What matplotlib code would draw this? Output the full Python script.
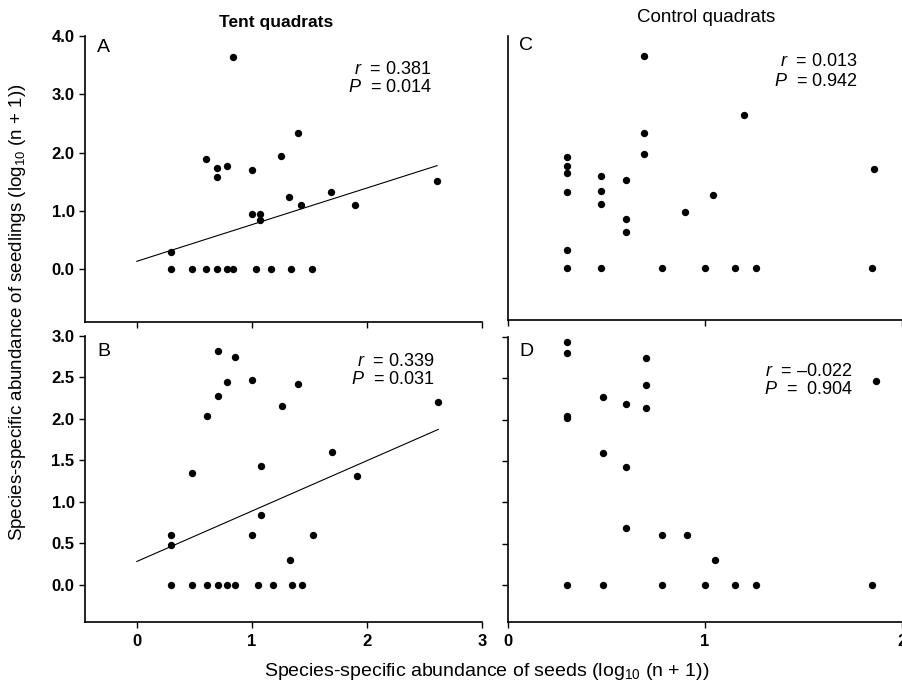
import numpy as np
import matplotlib
matplotlib.use("Agg")
import matplotlib.pyplot as plt

plt.rcParams["font.family"] = ["Liberation Sans", "DejaVu Sans"]
plt.rcParams["mathtext.fontset"] = "custom"
plt.rcParams["mathtext.rm"] = "Liberation Sans"
plt.rcParams["mathtext.it"] = "Liberation Sans:italic"

# Panel A: tent quadrats, seedlings (first y scale)
a_x = [0.30, 0.30, 0.48, 0.60, 0.70, 0.78, 0.84, 1.04, 1.17, 1.34, 1.52,
       0.60, 0.70, 0.70, 0.78, 0.84, 1.00, 1.00, 1.07, 1.07, 1.25, 1.32,
       1.40, 1.43, 1.69, 1.90, 2.61]
a_y = [0.30, 0.00, 0.00, 0.00, 0.00, 0.00, 0.00, 0.00, 0.00, 0.00, 0.00,
       1.90, 1.73, 1.58, 1.78, 3.64, 1.70, 0.95, 0.95, 0.85, 1.95, 1.25,
       2.33, 1.11, 1.32, 1.11, 1.51]
a_fit = (0.14, 0.628)  # intercept, slope

# Panel B: tent quadrats, second y scale
b_x = [0.30, 0.30, 0.30, 0.48, 0.61, 0.71, 0.78, 0.85, 1.05, 1.18, 1.35, 1.44,
       0.48, 0.61, 0.71, 0.71, 0.78, 0.85, 1.00, 1.00, 1.08, 1.08, 1.26, 1.33,
       1.40, 1.53, 1.70, 1.91, 2.62]
b_y = [0.60, 0.475, 0.00, 0.00, 0.00, 0.00, 0.00, 0.00, 0.00, 0.00, 0.00, 0.00,
       1.35, 2.03, 2.82, 2.28, 2.45, 2.75, 2.47, 0.60, 1.43, 0.84, 2.15, 0.30,
       2.42, 0.60, 1.60, 1.31, 2.20]
b_fit = (0.28, 0.608)

# Panel C: control quadrats
c_x = [0.30, 0.30, 0.30, 0.30, 0.30, 0.30, 0.47, 0.47, 0.47, 0.47,
       0.60, 0.60, 0.60, 0.69, 0.69, 0.69, 0.78, 0.90, 1.00, 1.04,
       1.15, 1.20, 1.26, 1.85, 1.86]
c_y = [1.91, 1.75, 1.63, 1.30, 0.30, 0.00, 0.00, 1.58, 1.32, 1.11,
       1.51, 0.85, 0.61, 3.66, 2.33, 1.96, 0.00, 0.96, 0.00, 1.26,
       0.00, 2.64, 0.00, 0.00, 1.70]

# Panel D: control quadrats
d_x = [0.30, 0.30, 0.30, 0.30, 0.30, 0.48, 0.48, 0.48, 0.60, 0.60, 0.60,
       0.70, 0.70, 0.70, 0.78, 0.78, 0.91, 1.00, 1.05, 1.15, 1.26, 1.85, 1.87]
d_y = [2.94, 2.81, 2.04, 2.02, 0.00, 2.27, 1.60, 0.00, 2.19, 1.43, 0.69,
       2.75, 2.42, 2.14, 0.60, 0.00, 0.60, 0.00, 0.30, 0.00, 0.00, 0.00, 2.47]

stats = {
    "A": ("0.381", "0.014"),
    "B": ("0.339", "0.031"),
    "C": ("0.013", "0.942"),
    "D": ("\u20130.022", " 0.904"),
}

W, H = 902, 688
fig = plt.figure(figsize=(W / 100, H / 100), dpi=100)


def px_axes(left, top, right, bottom):
    return fig.add_axes([left / W, 1 - bottom / H, (right - left) / W, (bottom - top) / H])


ax_a = px_axes(85, 36, 482, 322)
ax_b = px_axes(85, 336, 482, 622)
ax_c = px_axes(508, 36, 902, 320)
ax_d = px_axes(508, 337, 902, 622)

for ax in (ax_a, ax_b, ax_c, ax_d):
    for side in ("top", "right"):
        ax.spines[side].set_visible(False)
    for side in ("left", "bottom"):
        ax.spines[side].set_linewidth(1.2)
    ax.tick_params(direction="out", length=4, width=1.0, labelsize=12)
    ax.tick_params(axis="x", pad=5)

# left column
for ax, xs, ys, fit in ((ax_a, a_x, a_y, a_fit), (ax_b, b_x, b_y, b_fit)):
    ax.scatter(xs, ys, s=28, color="black", zorder=3, linewidths=0)
    xl = np.array([0, max(xs)])
    ax.plot(xl, fit[0] + fit[1] * xl, color="black", lw=0.8)
    ax.set_xlim(-0.45, 3.0)
    ax.set_xticks([0, 1, 2, 3])

ax_a.set_ylim(-0.9, 4.0)
ax_a.set_yticks([0, 1, 2, 3, 4])
ax_a.set_yticklabels(["0.0", "1.0", "2.0", "3.0", "4.0"], fontweight="bold")
ax_a.tick_params(axis="x", labelbottom=False)

ax_b.set_ylim(-0.45, 3.0)
ax_b.set_yticks(np.arange(0, 3.01, 0.5))
ax_b.set_yticklabels([f"{v:.1f}" for v in np.arange(0, 3.01, 0.5)], fontweight="bold")
ax_b.set_xticklabels(["0", "1", "2", "3"], fontweight="bold")

# right column
for ax, xs, ys in ((ax_c, c_x, c_y), (ax_d, d_x, d_y)):
    ax.scatter(xs, ys, s=28, color="black", zorder=3, linewidths=0, clip_on=False)
    ax.set_xlim(0, 2.0)
    ax.set_xticks([0, 1, 2])

ax_c.set_ylim(-0.9, 4.0)
ax_c.tick_params(axis="y", left=False, labelleft=False)
ax_c.tick_params(axis="x", labelbottom=False)

ax_d.set_ylim(-0.45, 3.0)
ax_d.set_yticks(np.arange(0, 3.01, 0.5))
ax_d.tick_params(axis="y", labelleft=False)
ax_d.set_xticklabels(["0", "1", "2"], fontweight="bold")


def fig_text(x, y, s, **kw):
    fig.text(x / W, 1 - y / H, s, **kw)


# panel letters
for letter, (x, y) in zip("ABCD", [(97, 47), (97, 351), (519, 45), (519, 351)]):
    fig_text(x, y, letter, fontsize=14, va="center", ha="left")

# correlation stats, right-aligned
stat_pos = {"A": (432, 69, 88), "B": (435, 361, 380), "C": (858, 62, 82), "D": (853, 371, 390)}
for key, (xr, yr, yp) in stat_pos.items():
    rv, pv = stats[key]
    fig_text(xr, yr, r"$r$  = " + rv, fontsize=13, ha="right", va="center")
    fig_text(xr, yp, r"$P$  = " + pv, fontsize=13, ha="right", va="center")

fig_text(276, 22, "Tent quadrats", fontsize=12.5, fontweight="bold", ha="center", va="center")
fig_text(706, 17, "Control quadrats", fontsize=13.5, ha="center", va="center")

fig_text(487, 671, r"Species-specific abundance of seeds ($\mathregular{log_{10}}$ (n + 1))",
         fontsize=14, ha="center", va="center")
fig_text(18, 312, r"Species-specific abundance of seedlings ($\mathregular{log_{10}}$ (n + 1))",
         fontsize=13.5, ha="center", va="center", rotation=90)

fig.savefig("out.png", dpi=100)
